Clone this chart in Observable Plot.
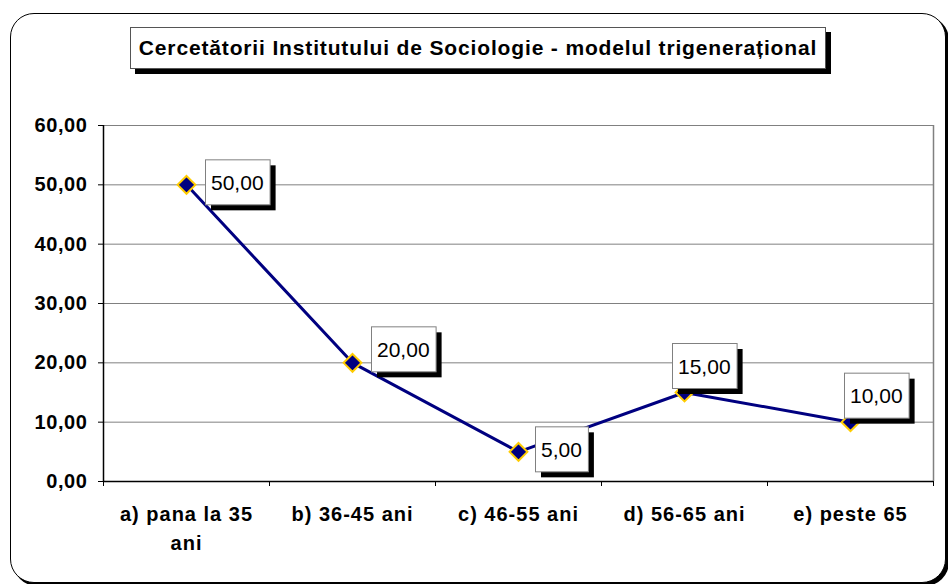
<!DOCTYPE html>
<html>
<head>
<meta charset="utf-8">
<script src="https://cdn.jsdelivr.net/npm/d3@7"></script>
<script src="https://cdn.jsdelivr.net/npm/@observablehq/plot@0.6"></script>
<style>
  html, body { margin: 0; padding: 0; background: #fff; }
  #wrap { position: relative; width: 948px; height: 584px; overflow: hidden; font-family: "Liberation Sans", Arial, sans-serif; }
  #frame { position: absolute; left: 10px; top: 13px; width: 934px; height: 568px; border: 1.5px solid #000; border-radius: 24px; box-shadow: 3px 3px 0 #000; background: #fff; }
  #title { position: absolute; left: 130px; top: 27px; width: 694px; height: 40px; border: 1px solid #555; background: #fff; box-shadow: 5px 5px 0 #000;
           font-weight: bold; font-size: 21px; letter-spacing: 0.85px; line-height: 40px; text-align: center; color: #000; white-space: nowrap; }
  #chart { position: absolute; left: 0; top: 0; }
  #chart g[aria-label="y-axis tick label"] text { letter-spacing: 0.6px; }
  #chart g[aria-label="text"] text { letter-spacing: 1px; }
</style>
</head>
<body>
<div id="wrap">
  <div id="frame"></div>
  <div id="chart"></div>
  <div id="title">Cercetătorii Institutului de Sociologie - modelul trigenerațional</div>
</div>
<script>
// ---- data ----
const categories = ["a) pana la 35\nani", "b) 36-45 ani", "c) 46-55 ani", "d) 56-65 ani", "e) peste 65"];
const values = [50, 20, 5, 15, 10];
const yTicks = [0, 10, 20, 30, 40, 50, 60];
const xBoundaries = [0, 1, 2, 3, 4, 5];
// label box placement (top-left of box relative to point), layout only
const labelOffsets = [[19, -25], [19, -36], [17, -25], [-12, -49], [-6, -49]];

const fmt = v => v.toFixed(2).replace(".", ",");
const rows = categories.map((c, i) => ({cat: c, i, pos: i + 0.5, value: values[i], label: fmt(values[i])}));

function labelMark(index, scales) {
  const g = d3.create("svg:g");
  rows.forEach((d, k) => {
    const px = scales.x(d.pos), py = scales.y(d.value);
    const [ox, oy] = labelOffsets[k];
    const w = d.label.split("").reduce((s, ch) => s + (ch === "," ? 5.8 : 11.7), 0) + 12;
    const h = 45;
    const x0 = px + ox, y0 = py + oy;
    g.append("rect").attr("x", x0 + 6).attr("y", y0 + 6).attr("width", w).attr("height", h).attr("fill", "#000");
    g.append("rect").attr("x", x0 + 0.5).attr("y", y0 + 0.5).attr("width", w).attr("height", h)
      .attr("fill", "#fff").attr("stroke", "#808080").attr("stroke-width", 1);
    g.append("text").attr("x", x0 + w / 2).attr("y", y0 + h / 2 + 8)
      .attr("text-anchor", "middle").attr("font-size", 21).attr("font-weight", "normal")
      .attr("font-family", '"Liberation Sans", Arial, sans-serif').attr("fill", "#000")
      .text(d.label);
  });
  return g.node();
}

const chart = Plot.plot({
  width: 948,
  height: 584,
  marginLeft: 103,
  marginRight: 15,
  marginTop: 125,
  marginBottom: 103,
  style: {fontFamily: '"Liberation Sans", Arial, sans-serif', fontSize: "20px", fontWeight: "bold", color: "#000", background: "transparent", overflow: "visible"},
  x: {type: "linear", domain: [0, 5], ticks: xBoundaries, tickFormat: () => "", tickSize: 5, label: null},
  y: {domain: [0, 60], ticks: yTicks, tickFormat: fmt, tickSize: 5, tickPadding: 11, label: null},
  marks: [
    Plot.ruleY(yTicks.filter(t => t > 0), {stroke: "#808080", strokeWidth: 1}),
    Plot.ruleX([5], {stroke: "#808080", strokeWidth: 1.5}),
    Plot.ruleX([0], {stroke: "#000", strokeWidth: 1.5}),
    Plot.ruleY([0], {stroke: "#000", strokeWidth: 1.5}),
    Plot.text(rows, {x: "pos", y: 0, text: "cat", dy: 19, lineAnchor: "top", lineHeight: 1.45, fontWeight: "bold", fontSize: 20, fill: "#000"}),
    Plot.line(rows, {x: "pos", y: "value", stroke: "#000080", strokeWidth: 3}),
    Plot.dot(rows, {x: "pos", y: "value", symbol: "diamond2", r: 8, fill: "#000080", stroke: "#FFCC00", strokeWidth: 2}),
    labelMark
  ]
});
document.getElementById("chart").appendChild(chart);
</script>
</body>
</html>
